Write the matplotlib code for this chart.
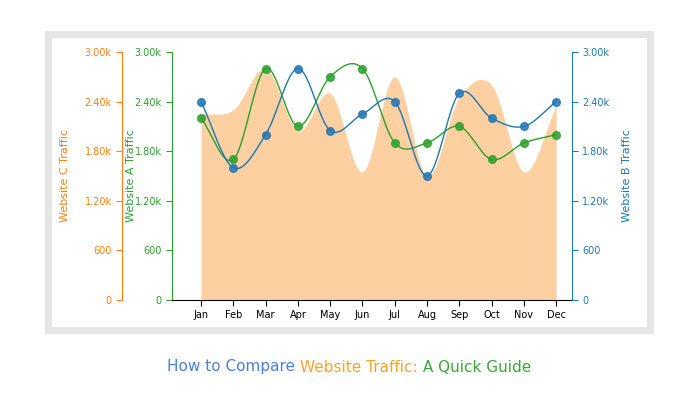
import numpy as np
import matplotlib
matplotlib.use("Agg")
import matplotlib.pyplot as plt
from matplotlib.patches import Rectangle
from matplotlib.ticker import FuncFormatter

months = ["Jan","Feb","Mar","Apr","May","Jun","Jul","Aug","Sep","Oct","Nov","Dec"]
site_a = [2200,1700,2800,2100,2700,2800,1900,1900,2100,1700,1900,2000]
site_b = [2400,1600,2000,2800,2050,2250,2400,1500,2500,2200,2100,2400]
site_c = [2250,2300,2800,2050,2500,1550,2700,1500,2450,2600,1550,2350]
ticks = [0,600,1200,1800,2400,3000]

ORANGE="#ff7f0e"; GREEN="#2ca02c"; BLUE="#1f77b4"; AREA="#fdd0a2"

def smooth(y, n=30):
    y = np.asarray(y, float); x = np.arange(len(y))
    p = np.concatenate([[2*y[0]-y[1]], y, [2*y[-1]-y[-2]]])
    xs, ys = [], []
    for i in range(len(y)-1):
        p0,p1,p2,p3 = p[i],p[i+1],p[i+2],p[i+3]
        t = np.linspace(0,1,n,endpoint=False)
        ys.append(0.5*((2*p1)+(-p0+p2)*t+(2*p0-5*p1+4*p2-p3)*t**2+(-p0+3*p1-3*p2+p3)*t**3))
        xs.append(x[i]+t)
    xs.append([x[-1]]); ys.append([y[-1]])
    return np.concatenate(xs), np.concatenate(ys)

def fmt(v,_):
    return "0" if v==0 else (f"{v/1000:.2f}k" if v>=1000 else f"{int(v)}")

fig = plt.figure(figsize=(6.98,4.0), dpi=100)
fig.patches.append(Rectangle((48/698, 1-330/400), 602/698, 296/400, transform=fig.transFigure,
                             fill=False, edgecolor="#e6e6e6", linewidth=5))
ax = fig.add_axes([172/698, 100/400, 400/698, 248/400])
axc = ax.twinx(); axb = ax.twinx()
for a in (ax, axc, axb):
    a.set_ylim(0,3000); a.set_yticks(ticks); a.yaxis.set_major_formatter(FuncFormatter(fmt))
    a.tick_params(labelsize=7, length=4)
    a.spines["top"].set_visible(False)
ax.set_xlim(-0.9, 11.49)
ax.set_xticks(range(12)); ax.set_xticklabels(months)

axc.yaxis.tick_left(); axc.yaxis.set_label_position("left")
axc.spines["left"].set_position(("outward", 36))
axc.spines["right"].set_visible(False); axc.spines["bottom"].set_visible(False)
axc.spines["left"].set_color(ORANGE); axc.tick_params(axis="y", colors=ORANGE)
axc.set_ylabel("Website C Traffic", color=ORANGE, fontsize=8)
axc.yaxis.set_label_coords(-0.255, 0.5)
xc, yc = smooth(site_c)
ax.fill_between(xc, 0, yc, color=AREA, linewidth=0, zorder=0)

ax.spines["right"].set_visible(False)
ax.spines["left"].set_color(GREEN); ax.tick_params(axis="y", colors=GREEN)
ax.set_ylabel("Website A Traffic", color=GREEN, fontsize=8)
ax.yaxis.set_label_coords(-0.09, 0.5)
xa, ya = smooth(site_a)
ax.plot(xa, ya, color=GREEN, lw=1, zorder=3)
ax.plot(range(12), site_a, "o", color=GREEN, ms=5.5, alpha=0.85, zorder=4)

axb.spines["left"].set_visible(False); axb.spines["bottom"].set_visible(False)
axb.spines["right"].set_color(BLUE); axb.tick_params(axis="y", colors=BLUE)
axb.set_ylabel("Website B Traffic", color=BLUE, fontsize=8, rotation=90)
axb.yaxis.set_label_coords(1.125, 0.5)
xb, yb = smooth(site_b)
axb.plot(xb, yb, color=BLUE, lw=1)
axb.plot(range(12), site_b, "o", color=BLUE, ms=5.5, alpha=0.85)
axb.set_xlim(-0.9, 11.49)

parts = [("How to Compare ", "#4a7fe0"), ("Website Traffic:", "#f5a623"), (" A Quick Guide", "#3aa83a")]
r = fig.canvas.get_renderer()
texts = []; total = 0
for s, c in parts:
    t = fig.text(0, 1-367/400, s, color=c, fontsize=11, va="center")
    w = t.get_window_extent(r).width; texts.append((t, w)); total += w
x = (349 - total/2)
for t, w in texts:
    t.set_x(x/698); x += w

fig.savefig("out.png", dpi=100)
